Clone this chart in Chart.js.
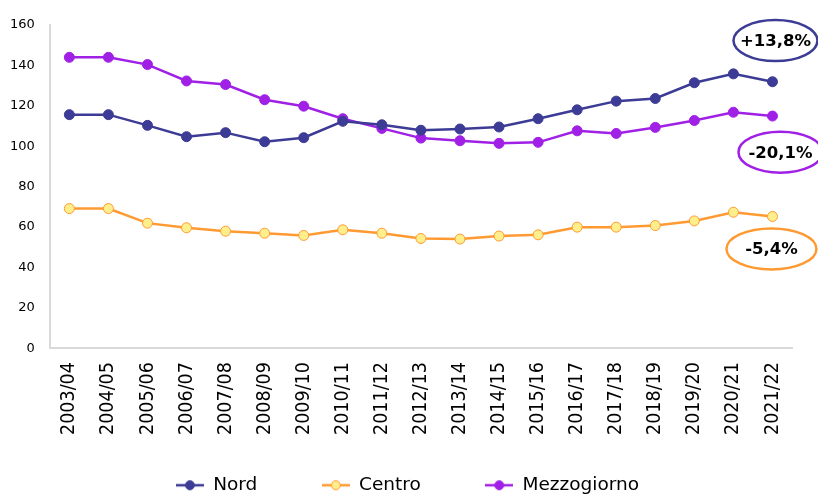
<!DOCTYPE html>
<html>
<head>
<meta charset="utf-8">
<script src="https://cdn.jsdelivr.net/npm/chart.js@4/dist/chart.umd.min.js"></script>
<style>
  html, body { margin: 0; padding: 0; background: #fff; }
  #wrap { width: 818px; height: 496px; }
</style>
</head>
<body>
<div id="wrap"><canvas id="lineChart" width="818" height="496"></canvas></div>
<script>
var anni = ['2003/04', '2004/05', '2005/06', '2006/07', '2007/08', '2008/09', '2009/10', '2010/11', '2011/12', '2012/13',
    '2013/14', '2014/15', '2015/16', '2016/17', '2017/18', '2018/19', '2019/20', '2020/21', '2021/22'];
var nord = [115.6, 115.6, 110.3, 104.7, 106.7, 102.2, 104.2, 112.3, 110.6, 107.9,
    108.5, 109.5, 113.6, 118.0, 122.3, 123.6, 131.4, 135.8, 131.9];
var centro = [69.1, 69.1, 61.9, 59.6, 57.9, 56.9, 55.8, 58.6, 56.9, 54.3,
    54.0, 55.5, 56.1, 59.9, 59.9, 60.7, 63.0, 67.3, 65.2];
var mezzogiorno = [144.0, 144.0, 140.4, 132.3, 130.5, 123.0, 119.8, 113.6, 108.8, 104.0,
    102.7, 101.4, 101.9, 107.6, 106.3, 109.3, 112.7, 116.8, 114.9];

// variazioni riportate negli ovali a destra
var variazioni = ['+13,8%', '-20,1%', '-5,4%'];
var variazioniY = [152.3, 97, 49.1];
var variazioniColori = ['#3c3c96', '#a020e6', '#ff9a33'];

var blu = '#3c3c96';
var viola = '#a020e6';
var arancio = '#ff9a33';
var giallo = '#ffee8c';

function legendIcon(lineColor, fill, border) {
    var c = document.createElement('canvas');
    c.width = 28; c.height = 12;
    var g = c.getContext('2d');
    g.strokeStyle = lineColor;
    g.lineWidth = 2.5;
    g.beginPath(); g.moveTo(0, 6); g.lineTo(28, 6); g.stroke();
    g.beginPath(); g.arc(14, 6, 4.5, 0, Math.PI * 2);
    g.fillStyle = fill; g.fill();
    g.lineWidth = 1; g.strokeStyle = border; g.stroke();
    return c;
}
var icons = [legendIcon(blu, blu, blu), legendIcon(arancio, giallo, arancio), legendIcon(viola, viola, viola)];

var ovali = {
    id: 'ovali',
    afterLayout: function (chart) {
        // legend sits a little right of centre in the original
        chart.legend.left += 20;
    },
    afterDraw: function (chart) {
        var ctx = chart.ctx;
        var dx = [3, 8, -1];
        var rx = [42, 42, 45];
        ctx.save();
        for (var i = 0; i < variazioni.length; i++) {
            var x = chart.scales.x.getPixelForValue(anni.length - 1) + dx[i];
            var y = chart.scales.y.getPixelForValue(variazioniY[i]);
            ctx.beginPath();
            ctx.ellipse(x, y, rx[i], 20.5, 0, 0, Math.PI * 2);
            ctx.fillStyle = '#fff';
            ctx.fill();
            ctx.lineWidth = 2.5;
            ctx.strokeStyle = variazioniColori[i];
            ctx.stroke();
            ctx.fillStyle = '#000';
            ctx.font = 'bold 16.5px "DejaVu Sans"';
            ctx.textAlign = 'center';
            ctx.textBaseline = 'middle';
            ctx.fillText(variazioni[i], x, y + 1);
        }
        ctx.restore();
    }
};

var lineChart = new Chart(document.getElementById('lineChart').getContext('2d'), {
    type: 'line',
    data: {
        labels: anni,
        datasets: [{
            label: 'Nord',
            data: nord,
            borderColor: blu,
            backgroundColor: blu,
            pointBackgroundColor: blu,
            pointBorderColor: blu,
            borderWidth: 2.5,
            pointRadius: 5,
            pointBorderWidth: 1
        }, {
            label: 'Centro',
            data: centro,
            borderColor: arancio,
            backgroundColor: giallo,
            pointBackgroundColor: giallo,
            pointBorderColor: arancio,
            borderWidth: 2.5,
            pointRadius: 5,
            pointBorderWidth: 1
        }, {
            label: 'Mezzogiorno',
            data: mezzogiorno,
            borderColor: viola,
            backgroundColor: viola,
            pointBackgroundColor: viola,
            pointBorderColor: viola,
            borderWidth: 2.5,
            pointRadius: 5,
            pointBorderWidth: 1
        }]
    },
    options: {
        responsive: false,
        animation: false,
        layout: { padding: { top: 25, right: 26, left: 3, bottom: -8.5 } },
        plugins: {
            tooltip: { enabled: false },
            legend: {
                position: 'bottom',
                labels: {
                    usePointStyle: true,
                    pointStyleWidth: 28,
                    padding: 35,
                    color: '#000',
                    font: { family: '"DejaVu Sans"', size: 18.5 },
                    generateLabels: function (chart) {
                        var items = Chart.defaults.plugins.legend.labels.generateLabels(chart);
                        items.forEach(function (it, i) {
                            it.pointStyle = icons[i];
                            // a bit more room between the entries than the padding gives
                            if (i < items.length - 1) it.text = it.text + '     ';
                        });
                        return items;
                    }
                }
            }
        },
        scales: {
            x: {
                offset: true,
                grid: { display: false },
                border: { display: true, color: '#d9d9d9', width: 2 },
                ticks: {
                    minRotation: 90,
                    maxRotation: 90,
                    padding: 6,
                    color: '#000',
                    font: { family: '"DejaVu Sans Condensed"', size: 19.5 }
                }
            },
            y: {
                min: 0,
                max: 160,
                grid: { display: false },
                border: { display: true, color: '#d9d9d9', width: 2 },
                ticks: {
                    stepSize: 20,
                    padding: 7,
                    color: '#000',
                    font: { family: '"DejaVu Sans"', size: 13 }
                }
            }
        }
    },
    plugins: [ovali]
});
</script>
</body>
</html>
